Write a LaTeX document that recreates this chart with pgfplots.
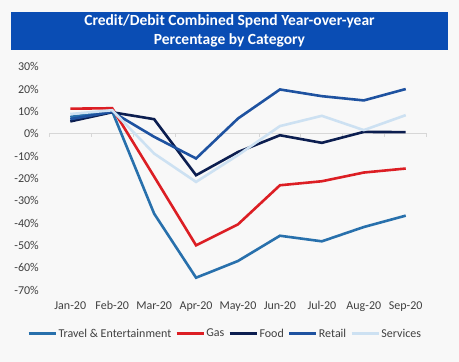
\documentclass[border=0pt]{standalone}
\usepackage{fontspec}
\setmainfont{Carlito}
\usepackage{pgfplots}
\pgfplotsset{compat=1.18}
\definecolor{bg}{RGB}{248,248,248}
\definecolor{titleblue}{RGB}{10,77,180}
\definecolor{travel}{RGB}{40,112,172}
\definecolor{gas}{RGB}{220,30,36}
\definecolor{food}{RGB}{12,30,80}
\definecolor{retail}{RGB}{30,82,160}
\definecolor{services}{RGB}{205,225,242}
\definecolor{txt}{RGB}{64,64,64}
\definecolor{zline}{RGB}{215,215,215}
\begin{document}
\begin{tikzpicture}
\fill[bg] (0,0) rectangle (459bp,362bp);
\begin{axis}[
  at={(49.3bp,72bp)}, anchor=south west,
  scale only axis, width=377.4bp, height=223.3bp,
  xmin=-0.5, xmax=8.5, ymin=-70, ymax=30,
  axis line style={draw=none},
  tick style={draw=none},
  xtick={0,...,8},
  xticklabels={Jan-20,Feb-20,Mar-20,Apr-20,May-20,Jun-20,Jul-20,Aug-20,Sep-20},
  ytick={-70,-60,...,30},
  yticklabels={-70\%,-60\%,-50\%,-40\%,-30\%,-20\%,-10\%,0\%,10\%,20\%,30\%},
  tick label style={font=\fontsize{12bp}{14bp}\selectfont, text=txt},
  yticklabel style={xshift=-7bp},
  xticklabel style={yshift=-8bp},
  clip=false,
  legend columns=5,
  legend style={draw=none, fill=none, at={(0.4655,-0.196)}, anchor=center,
    font=\fontsize{12bp}{14bp}\selectfont, text=txt,
    nodes={inner sep=1.5bp},
    /tikz/every even column/.append style={column sep=2.5bp}},
  legend image code/.code={\draw[#1, line width=2.6bp] (0bp,0bp) -- (27bp,0bp);},
  every axis plot/.append style={line width=2.6bp, mark=none},
]
\draw[zline, line width=1bp] (axis cs:-0.5,0) -- (axis cs:8.5,0);
\pgfplotsinvokeforeach{-0.5,0.5,1.5,2.5,3.5,4.5,5.5,6.5,7.5,8.5}{
  \draw[zline, line width=0.8bp] (axis cs:#1,0) -- ++(0bp,-3.5bp);
}
\addplot[travel] coordinates {(0,7.5) (1,10.0) (2,-35.8) (3,-64.5) (4,-57.0) (5,-45.7) (6,-48.2) (7,-41.8) (8,-36.7)};
\addlegendentry{Travel \& Entertainment}
\addplot[gas] coordinates {(0,11.2) (1,11.4) (2,-19.2) (3,-50.0) (4,-40.6) (5,-23.1) (6,-21.3) (7,-17.4) (8,-15.6)};
\addlegendentry{Gas}
\addplot[food] coordinates {(0,5.5) (1,9.6) (2,6.5) (3,-18.6) (4,-8.2) (5,-0.7) (6,-4.1) (7,0.8) (8,0.7)};
\addlegendentry{Food}
\addplot[retail] coordinates {(0,6.5) (1,9.8) (2,-1.4) (3,-11.1) (4,6.8) (5,19.8) (6,16.8) (7,14.9) (8,20.0)};
\addlegendentry{Retail}
\addplot[services] coordinates {(0,8.8) (1,10.5) (2,-8.9) (3,-21.6) (4,-9.6) (5,3.4) (6,8.0) (7,1.6) (8,8.3)};
\addlegendentry{Services}
\end{axis}
\fill[titleblue] (11bp,312bp) rectangle (448bp,349.7bp);
\node[text=white, font=\fontsize{15.5bp}{18.3bp}\selectfont\bfseries, align=center] at (229.5bp,331bp) {Credit/Debit Combined Spend Year-over-year\\Percentage by Category};
\end{tikzpicture}
\end{document}
